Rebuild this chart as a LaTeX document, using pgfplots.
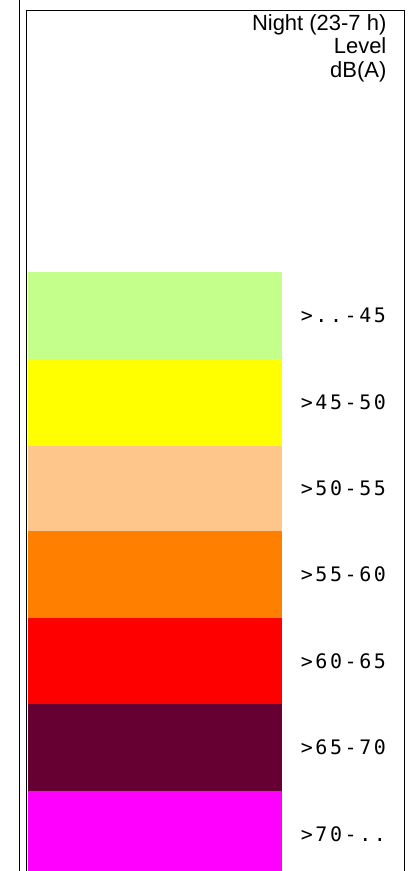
\documentclass[border=0pt]{standalone}
\usepackage{fontspec}
\setmainfont{Liberation Sans}
\newfontfamily\lblfont{DejaVu Sans Mono}[LetterSpace=13]
\usepackage{pgfplots}
\pgfplotsset{compat=1.18}
\definecolor{c45}{RGB}{196,255,140}
\definecolor{c50}{RGB}{255,255,0}
\definecolor{c55}{RGB}{255,198,140}
\definecolor{c60}{RGB}{255,128,0}
\definecolor{c65}{RGB}{255,0,0}
\definecolor{c70}{RGB}{102,0,51}
\definecolor{c75}{RGB}{255,0,255}
\tikzset{lbl/.style={anchor=west, inner sep=0pt, font=\lblfont\fontsize{20}{20}\selectfont},
  ttl/.style={anchor=base east, inner sep=0pt, font=\fontsize{22}{22}\selectfont}}
\begin{document}
\begin{tikzpicture}
\begin{axis}[
  width=414pt, height=871pt, scale only axis,
  xmin=0, xmax=414, ymin=7, ymax=878,
  hide axis,
  ybar stacked, bar width=254,
]
% band heights (px), bottom to top: >70-.., >65-70, >60-65, >55-60, >50-55, >45-50, >..-45
\addplot[fill=c75, draw=none] coordinates {(155,87)};
\addplot[fill=c70, draw=none] coordinates {(155,87)};
\addplot[fill=c65, draw=none] coordinates {(155,86)};
\addplot[fill=c60, draw=none] coordinates {(155,87)};
\addplot[fill=c55, draw=none] coordinates {(155,85)};
\addplot[fill=c50, draw=none] coordinates {(155,87)};
\addplot[fill=c45, draw=none] coordinates {(155,87)};
\end{axis}
\begin{axis}[
  width=414pt, height=871pt, scale only axis,
  xmin=0, xmax=414, ymin=7, ymax=878,
  hide axis, clip=false,
]
\path (axis cs:0,7) rectangle (axis cs:414,878);
\draw[black, line width=1pt] (axis cs:20,7) -- (axis cs:20,878);
\draw[black, line width=1pt] (axis cs:27,7) -- (axis cs:27,868) -- (axis cs:405,868) -- (axis cs:405,7);
\node[lbl] at (axis cs:301,562.5) {>..-45};
\node[lbl] at (axis cs:301,475.5) {>45-50};
\node[lbl] at (axis cs:301,389.5) {>50-55};
\node[lbl] at (axis cs:301,303.5) {>55-60};
\node[lbl] at (axis cs:301,217) {>60-65};
\node[lbl] at (axis cs:301,130.5) {>65-70};
\node[lbl] at (axis cs:301,43.5) {>70-..};
\node[ttl] at (axis cs:387,848) {Night (23-7 h)};
\node[ttl] at (axis cs:387,824.5) {Level};
\node[ttl] at (axis cs:387,801) {dB(A)};
\end{axis}
\end{tikzpicture}
\end{document}
